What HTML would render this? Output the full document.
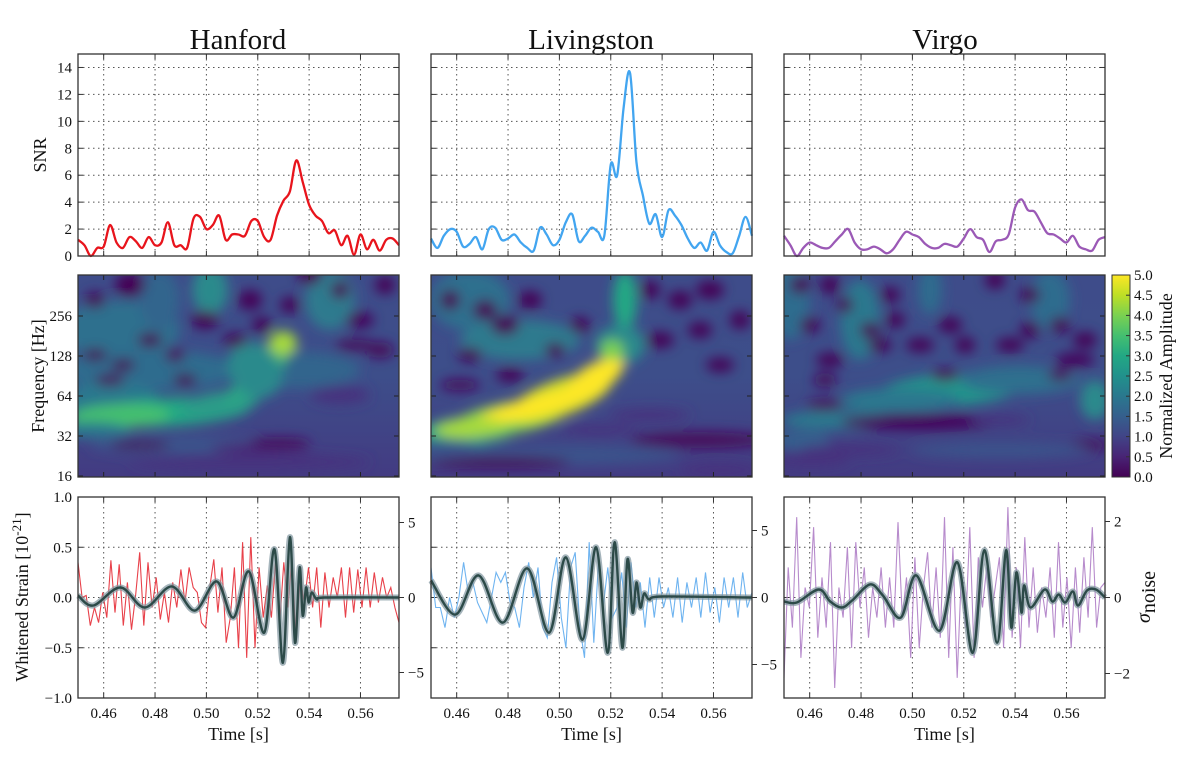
<!DOCTYPE html>
<html><head><meta charset="utf-8"><style>
html,body{margin:0;padding:0;background:#fff;}
svg{display:block;font-family:"Liberation Serif",serif;}
</style></head><body>
<svg id="fig" width="1200" height="771" viewBox="0 0 1200 771" xmlns="http://www.w3.org/2000/svg">
<defs>
<filter id="blur6" x="-20%" y="-20%" width="140%" height="140%"><feGaussianBlur stdDeviation="6"/></filter>
<linearGradient id="viridis" x1="0" y1="1" x2="0" y2="0">
<stop offset="0" stop-color="#440154"/><stop offset="0.1" stop-color="#482475"/><stop offset="0.2" stop-color="#414487"/>
<stop offset="0.3" stop-color="#355f8d"/><stop offset="0.4" stop-color="#2a788e"/><stop offset="0.5" stop-color="#21918c"/>
<stop offset="0.6" stop-color="#22a884"/><stop offset="0.7" stop-color="#44bf70"/><stop offset="0.8" stop-color="#7ad151"/>
<stop offset="0.9" stop-color="#bddf26"/><stop offset="1" stop-color="#fde725"/>
</linearGradient>
<linearGradient id="specbg" x1="0" y1="0" x2="0" y2="1">
<stop offset="0" stop-color="#3e4c8a"/><stop offset="0.5" stop-color="#3d4e8a"/><stop offset="1" stop-color="#433b82"/>
</linearGradient>
<clipPath id="c0"><rect x="78" y="275" width="321" height="202"/></clipPath>
<clipPath id="c1"><rect x="431" y="275" width="321" height="202"/></clipPath>
<clipPath id="c2"><rect x="784" y="275" width="321" height="202"/></clipPath>
</defs>
</svg>
<script>
// ---------- data ----------
const detectors = ["Hanford", "Livingston", "Virgo"];
const tStart = 0.45, tEnd = 0.575;
const timeTicks = [0.46, 0.48, 0.50, 0.52, 0.54, 0.56];
const snrTicks = [0, 2, 4, 6, 8, 10, 12, 14];
const freqTicks = [16, 32, 64, 128, 256];
const strainTicks = [1.0, 0.5, 0.0, -0.5, -1.0];
const colorbarTicks = [0.0, 0.5, 1.0, 1.5, 2.0, 2.5, 3.0, 3.5, 4.0, 4.5, 5.0];
const sigmaTicksHL = [5, 0, -5];
const sigmaTicksV = [2, 0, -2];

const snrHanford = [1.2,0.8,0.0,0.6,0.7,2.3,1.0,0.6,1.4,1.1,0.6,1.4,0.8,1.0,2.5,0.8,0.8,0.6,2.8,2.9,2.0,2.3,3.0,1.2,1.6,1.6,1.5,2.6,2.6,1.4,1.2,3.0,4.1,4.8,7.1,5.5,3.8,3.0,2.6,1.7,1.9,0.8,1.5,0.1,1.6,0.5,1.2,0.4,1.2,1.3,0.8];
const snrLivingston = [1.3,0.6,1.5,2.0,1.8,0.7,0.9,1.4,0.5,2.0,2.1,1.2,1.3,1.6,1.0,0.6,0.4,2.1,1.6,0.8,1.2,2.5,3.1,1.1,1.5,2.1,1.8,1.5,6.8,6.0,11.0,13.6,7.0,4.5,2.4,3.1,1.4,3.4,3.0,2.3,1.3,0.6,1.0,0.4,1.8,0.8,0.3,0.2,1.5,2.9,1.5];
const snrVirgo = [1.5,0.8,0.0,0.6,1.0,0.8,0.6,0.6,1.1,1.6,2.0,1.0,0.5,0.5,0.7,0.5,0.2,0.5,1.2,1.8,1.6,1.4,0.9,0.6,0.6,0.9,0.8,0.7,1.3,2.0,1.4,1.2,0.3,1.1,1.2,1.6,3.6,4.2,3.4,3.3,2.5,1.7,1.6,1.3,1.0,1.5,0.7,0.5,0.4,1.2,1.4];

const tmplTimesH = [0.450,0.456,0.4665,0.476,0.4865,0.4955,0.504,0.5105,0.5165,0.5225,0.5265,0.5298,0.5325,0.5345,0.5363,0.5375,0.5388,0.5398,0.541,0.543,0.546,0.575];
const tmplValsH  = [0.02,-0.08,0.10,-0.10,0.11,-0.13,0.16,-0.20,0.26,-0.35,0.48,-0.65,0.60,-0.45,0.30,-0.18,0.10,-0.05,0.05,-0.02,0.0,0.0];
const tmplTimesL = [0.450,0.4595,0.4685,0.478,0.4875,0.496,0.5025,0.509,0.5143,0.5188,0.5215,0.5245,0.5265,0.5285,0.530,0.5315,0.533,0.535,0.540,0.575];
const tmplValsL  = [0.17,-0.17,0.22,-0.25,0.29,-0.35,0.40,-0.42,0.50,-0.55,0.55,-0.50,0.38,-0.15,0.15,-0.10,0.04,-0.02,0.01,0.0];
const tmplTimesV = [0.450,0.455,0.4635,0.468,0.4725,0.4765,0.4835,0.4885,0.4955,0.5015,0.5105,0.5175,0.5235,0.528,0.533,0.5365,0.5385,0.5405,0.5425,0.5435,0.546,0.5515,0.5545,0.557,0.5595,0.5625,0.5645,0.568,0.5715,0.575];
const tmplValsV  = [-0.04,-0.05,0.08,-0.04,-0.10,-0.03,0.13,0.02,-0.20,0.22,-0.33,0.35,-0.55,0.47,-0.45,0.47,-0.30,0.25,-0.15,0.12,-0.10,0.08,-0.04,0.03,-0.05,0.06,-0.08,0.07,0.08,0.0];

const dataH = [0.35,0.0,0.02,-0.28,-0.1,-0.25,0.05,-0.2,0.37,-0.15,0.33,-0.28,0.15,-0.32,0.02,0.45,-0.28,0.35,-0.1,0.2,-0.22,0.05,-0.25,0.15,-0.1,0.28,-0.05,0.3,0.1,0.05,-0.25,-0.3,0.1,0.38,-0.15,0.3,-0.45,-0.2,0.3,-0.5,0.55,-0.6,0.6,-0.5,0.3,-0.2,0.12,-0.2,0.35,-0.25,0.35,-0.1,0.4,-0.45,0.2,-0.05,0.3,-0.1,0.3,-0.3,0.25,-0.1,0.2,0.0,0.3,-0.2,0.3,-0.15,0.28,-0.1,0.3,-0.1,0.25,-0.05,0.2,0.0,0.1,-0.1,-0.25];
const dataL = [0.3,-0.1,-0.1,-0.3,0.0,-0.2,0.0,0.35,0.05,0.15,-0.05,-0.15,-0.25,0.0,0.25,0.15,0.25,-0.05,-0.1,-0.3,0.1,0.35,0.0,0.3,-0.3,-0.4,0.15,0.4,-0.2,-0.5,0.3,0.45,-0.3,-0.6,0.55,-0.45,0.35,-0.1,0.3,-0.2,-0.1,0.25,-0.3,0.35,-0.1,0.15,-0.3,0.2,-0.2,0.2,-0.1,0.1,-0.2,0.2,-0.25,0.15,-0.1,0.2,-0.2,0.25,-0.15,0.1,-0.25,0.2,-0.1,0.2,-0.2,0.25,-0.1,0.05];
const dataV = [-0.8,0.3,-0.3,0.8,-0.6,0.1,-0.1,0.7,-0.4,0.2,-0.3,0.55,-0.9,0.1,-0.2,0.5,-0.5,0.55,-0.1,0.3,-0.4,0.1,-0.2,0.3,-0.3,0.2,-0.3,0.75,-0.2,0.2,-0.6,0.4,-0.5,0.1,0.45,-0.3,0.3,-0.4,0.8,-0.6,0.5,-0.8,0.25,-0.3,0.7,-0.6,0.4,-0.1,0.3,-0.2,0.1,0.4,-0.5,0.9,-0.4,0.3,-0.5,0.6,-0.3,0.3,-0.35,0.1,-0.2,0.3,-0.4,0.55,-0.3,0.2,-0.5,0.3,-0.35,0.4,-0.2,0.7,-0.3,0.1,0.15];

// ---------- layout ----------
const NS = "http://www.w3.org/2000/svg";
const svg = document.getElementById("fig");
const colX = [78, 431, 784], W = 321;
const rowSNR = [54, 256], rowStr = [497, 698];
const snrColors = ["#e8141c", "#42a5f0", "#9b59b6"];
const dataColors = ["#e8414a", "#6fb4f0", "#b78bcc"];
const snrSeries = [snrHanford, snrLivingston, snrVirgo];
const tmplT = [tmplTimesH, tmplTimesL, tmplTimesV];
const tmplV = [tmplValsH, tmplValsL, tmplValsV];
const dataS = [dataH, dataL, dataV];

function mk(tag, attrs, parent) {
  const e = document.createElementNS(NS, tag);
  for (const k in attrs) e.setAttribute(k, attrs[k]);
  (parent || svg).appendChild(e);
  return e;
}
function txt(s, attrs, parent) { const e = mk("text", attrs, parent); e.textContent = s; return e; }
function xS(c, t) { return colX[c] + (t - tStart) / (tEnd - tStart) * W; }
function ySNR(v) { return rowSNR[1] - v / 15 * (rowSNR[1] - rowSNR[0]); }
function yStr(v) { return 597.5 - v * 100.5; }
function yFreq(f) { return 476 - Math.log2(f / 16) * 40; }
function smoothPath(pts) {
  let d = "M" + pts[0][0].toFixed(1) + "," + pts[0][1].toFixed(1);
  for (let i = 0; i < pts.length - 1; i++) {
    const p0 = pts[Math.max(0, i - 1)], p1 = pts[i], p2 = pts[i + 1], p3 = pts[Math.min(pts.length - 1, i + 2)];
    const c1 = [p1[0] + (p2[0] - p0[0]) / 6, p1[1] + (p2[1] - p0[1]) / 6];
    const c2 = [p2[0] - (p3[0] - p1[0]) / 6, p2[1] - (p3[1] - p1[1]) / 6];
    d += "C" + c1[0].toFixed(1) + "," + c1[1].toFixed(1) + " " + c2[0].toFixed(1) + "," + c2[1].toFixed(1) + " " + p2[0].toFixed(1) + "," + p2[1].toFixed(1);
  }
  return d;
}
function seriesPts(c, arr, yf) {
  return arr.map((v, i) => [xS(c, tStart + i * (tEnd - tStart) / (arr.length - 1)), yf(v)]);
}
function frame(c, y0, y1, name) {
  const r = mk("rect", { x: colX[c], y: y0, width: W, height: y1 - y0, fill: "none", stroke: "#333", "stroke-width": 1.3 });
  
  
}
function xTicks(c, y0, y1, grid) {
  timeTicks.forEach(t => {
    const x = xS(c, t);
    if (grid) mk("line", { x1: x, y1: y0, x2: x, y2: y1, stroke: "#555", "stroke-width": 1, "stroke-dasharray": "1.5,3.5" });
    mk("line", { x1: x, y1: y0, x2: x, y2: y0 + 5, stroke: "#333", "stroke-width": 1 });
    mk("line", { x1: x, y1: y1, x2: x, y2: y1 - 5, stroke: "#333", "stroke-width": 1 });
  });
}

// ---------- titles ----------
const titleX = [238, 591, 945];
detectors.forEach((d, c) => {
  const t = txt(d, { x: titleX[c], y: 49, "font-size": 29, "text-anchor": "middle", fill: "#111" });
  
  
});

// ---------- row 1: SNR ----------
for (let c = 0; c < 3; c++) {
  const g = mk("g", {});
  
  
  xTicks(c, rowSNR[0], rowSNR[1], true);
  snrTicks.forEach(v => {
    const y = ySNR(v);
    if (v > 0) mk("line", { x1: colX[c], y1: y, x2: colX[c] + W, y2: y, stroke: "#555", "stroke-width": 1, "stroke-dasharray": "1.5,3.5" });
    mk("line", { x1: colX[c], y1: y, x2: colX[c] + 5, y2: y, stroke: "#333" });
    mk("line", { x1: colX[c] + W, y1: y, x2: colX[c] + W - 5, y2: y, stroke: "#333" });
    if (c === 0) txt(String(v), { x: 72, y: y + 5, "font-size": 15, "text-anchor": "end", fill: "#111" });
  });
  const p = mk("path", { d: smoothPath(seriesPts(c, snrSeries[c], ySNR)), fill: "none", stroke: snrColors[c], "stroke-width": 2.3, "stroke-linejoin": "round" });
  
  
  frame(c, rowSNR[0], rowSNR[1], detectors[c].toLowerCase() + '-snr-frame');
}
const snrLab = txt("SNR", { x: 0, y: 0, "font-size": 18, "text-anchor": "middle", transform: "translate(46,155) rotate(-90)", fill: "#111" });



// ---------- row 2: spectrograms (blurred blobs) ----------
const blobsH = [
  [120,330,60,30,"#2d6f8e",0],[210,290,18,25,"#2a8a8c",0],[330,300,25,30,"#2f7a8e",0],[160,300,20,30,"#33658d",0],
  [150,370,90,20,"#2f6c8e",0],[300,370,60,18,"#33658d",0],
  [110,400,50,18,"#2a788e",0],[170,412,80,14,"#22a884",-3],[120,416,50,12,"#44bf70",-2],[220,404,40,12,"#2a9b88",-8],
  [250,385,30,10,"#2ba685",-35],[270,360,18,14,"#44bf70",-45],[283,343,14,12,"#a6d93c",0],[255,370,25,30,"#2a8a8c",-40],
  [90,430,40,8,"#2a788e",0],[180,445,90,10,"#3b528b",0],[250,462,120,8,"#46327e",0],[260,448,50,5,"#482475",0],
  [140,445,30,4,"#440154",0],[280,443,30,5,"#46085c",0],[340,395,30,9,"#46327e",0],
  [95,300,10,8,"#440154",0],[130,285,15,12,"#440154",0],[150,340,12,7,"#440154",0],[185,380,12,6,"#440154",0],
  [205,320,14,9,"#440154",0],[175,355,10,7,"#460a5d",0],[250,300,12,10,"#450457",0],[262,325,10,8,"#440154",0],
  [235,340,12,7,"#440154",0],[290,305,10,8,"#440154",0],[310,275,12,10,"#440154",0],[340,290,9,9,"#440154",0],
  [360,320,14,8,"#45065a",0],[380,350,14,8,"#46085c",0],[385,285,10,9,"#440154",0],[355,345,20,6,"#46085c",0],
  [95,355,12,6,"#440154",0],[123,365,12,6,"#440154",0],[110,380,15,6,"#46085c",0]
];
const blobsL = [
  [470,300,40,30,"#2d6f8e",0],[520,340,60,20,"#2f7a8e",0],[625,300,12,30,"#22a884",0],[620,345,25,20,"#2a8a8c",0],
  [470,430,50,14,"#22a884",-4],[510,418,60,16,"#7ad151",-10],[560,398,55,18,"#d6e227",-20],[595,378,32,14,"#fde725",-30],
  [540,405,70,10,"#fde725",-15],[470,428,35,10,"#a6d93c",-4],[612,350,12,10,"#7ad151",0],
  [440,450,50,10,"#3b528b",0],[560,455,120,10,"#3b528b",0],[500,462,70,5,"#440154",0],[650,415,40,6,"#46327e",0],
  [700,440,70,8,"#46085c",0],[720,470,40,7,"#46327e",0],[600,430,40,5,"#46327e",0],
  [450,300,10,10,"#440154",0],[485,310,12,10,"#440154",0],[505,325,14,10,"#440154",0],[530,300,12,9,"#440154",0],
  [470,355,12,7,"#440154",0],[510,375,14,7,"#440154",0],[555,350,10,7,"#440154",0],[580,325,10,8,"#440154",0],
  [660,340,14,8,"#440154",0],[700,330,12,8,"#440154",0],[720,365,14,7,"#440154",0],[740,320,10,9,"#440154",0],
  [680,300,12,9,"#440154",0],[650,290,10,9,"#440154",0],[710,290,14,9,"#440154",0],[460,385,20,6,"#46085c",0]
];
const blobsV = [
  [860,320,20,40,"#2a788e",0],[790,300,20,40,"#2f6c8e",0],[930,290,12,25,"#2f6c8e",0],[1050,300,20,30,"#2f6c8e",0],
  [950,390,70,16,"#22948b",-3],[900,400,60,12,"#2a788e",0],[1020,380,60,14,"#2d6f8e",0],[1095,400,15,20,"#2a8a8c",0],
  [840,420,60,10,"#2a788e",0],[800,440,30,10,"#355f8d",0],
  [920,422,80,8,"#45065a",0],[1000,420,30,5,"#46327e",0],[850,450,50,6,"#46327e",0],[1090,445,20,5,"#46085c",0],
  [810,460,40,7,"#46327e",0],[1000,450,90,8,"#3b528b",0],
  [800,285,10,9,"#440154",0],[830,285,10,9,"#440154",0],[845,305,8,8,"#440154",0],[810,325,10,8,"#440154",0],
  [870,330,10,8,"#440154",0],[880,345,12,7,"#440154",0],[895,320,10,8,"#440154",0],[920,345,14,7,"#440154",0],
  [950,325,12,8,"#440154",0],[945,375,14,6,"#440154",0],[965,345,10,8,"#440154",0],[1010,345,14,7,"#440154",0],
  [1030,330,10,8,"#440154",0],[1060,325,10,8,"#440154",0],[1085,340,12,8,"#440154",0],[1030,295,10,8,"#440154",0],
  [995,280,10,9,"#440154",0],[830,360,14,7,"#440154",0],[825,380,12,7,"#46085c",0],[1060,375,12,6,"#46085c",0],
  [1075,360,20,7,"#45065a",0],[825,405,18,6,"#46085c",0],[890,295,10,8,"#440154",0]
];
const blobSets = [blobsH, blobsL, blobsV];
for (let c = 0; c < 3; c++) {
  const g = mk("g", { "clip-path": "url(#c" + c + ")" });
  
  
  mk("rect", { x: colX[c], y: 275, width: W, height: 202, fill: "url(#specbg)" }, g);
  const inner = mk("g", { filter: "url(#blur6)" }, g);
  blobSets[c].forEach(b => {
    mk("ellipse", { cx: b[0], cy: b[1], rx: b[2], ry: b[3], fill: b[4], transform: "rotate(" + b[5] + " " + b[0] + " " + b[1] + ")" }, inner);
  });
  timeTicks.forEach(t => {
    const x = xS(c, t);
    mk("line", { x1: x, y1: 275, x2: x, y2: 280, stroke: "#222" });
    mk("line", { x1: x, y1: 477, x2: x, y2: 472, stroke: "#222" });
  });
  freqTicks.forEach(f => {
    const y = yFreq(f);
    mk("line", { x1: colX[c], y1: y, x2: colX[c] + 5, y2: y, stroke: "#222" });
    mk("line", { x1: colX[c] + W, y1: y, x2: colX[c] + W - 5, y2: y, stroke: "#222" });
    if (c === 0) txt(String(f), { x: 72, y: y + 5, "font-size": 15, "text-anchor": "end", fill: "#111" });
  });
  frame(c, 275, 477, detectors[c].toLowerCase() + '-spectrogram-frame');
}
const fLab = txt("Frequency [Hz]", { x: 0, y: 0, "font-size": 18, "text-anchor": "middle", transform: "translate(44,376) rotate(-90)", fill: "#111" });



// colorbar
const cb = mk("rect", { x: 1112, y: 275, width: 18, height: 202, fill: "url(#viridis)", stroke: "#333", "stroke-width": 1 });


colorbarTicks.forEach(v => {
  const y = 477 - v / 5 * 202;
  mk("line", { x1: 1130, y1: y, x2: 1126, y2: y, stroke: "#333" });
  txt(v.toFixed(1), { x: 1134, y: y + 5, "font-size": 15, fill: "#111" });
});
const cbl = txt("Normalized Amplitude", { x: 0, y: 0, "font-size": 18, "text-anchor": "middle", transform: "translate(1172,376) rotate(-90)", fill: "#111" });



// ---------- row 3: whitened strain ----------
const rightScale = [15, 13.4, 38];
const rightTicks = [sigmaTicksHL, sigmaTicksHL, sigmaTicksV];
for (let c = 0; c < 3; c++) {
  const g = mk("g", {});
  
  
  xTicks(c, rowStr[0], rowStr[1], true);
  strainTicks.forEach(v => {
    const y = yStr(v);
    if (Math.abs(v) < 0.9) mk("line", { x1: colX[c], y1: y, x2: colX[c] + W, y2: y, stroke: "#555", "stroke-width": 1, "stroke-dasharray": "1.5,3.5" });
    mk("line", { x1: colX[c], y1: y, x2: colX[c] + 5, y2: y, stroke: "#333" });
    if (c === 0) txt(v.toFixed(1).replace("-", "\u2212"), { x: 72, y: y + 5, "font-size": 15, "text-anchor": "end", fill: "#111" });
  });
  rightTicks[c].forEach(v => {
    const y = 597.5 - v * rightScale[c];
    mk("line", { x1: colX[c] + W, y1: y, x2: colX[c] + W + 5, y2: y, stroke: "#333" });
    txt(String(v).replace("-", "\u2212"), { x: colX[c] + W + 9, y: y + 5, "font-size": 15, fill: "#111" });
  });
  timeTicks.forEach(t => {
    txt(t.toFixed(2), { x: xS(c, t), y: 718, "font-size": 15, "text-anchor": "middle", fill: "#111" });
  });
  const tl = txt("Time [s]", { x: colX[c] + W / 2, y: 740, "font-size": 18, "text-anchor": "middle", fill: "#111" });
  
  

  const dp = mk("polyline", { points: seriesPts(c, dataS[c], yStr).map(p => p[0].toFixed(1) + "," + p[1].toFixed(1)).join(" "), fill: "none", stroke: dataColors[c], "stroke-width": 1.1 });
  
  
  const tp = tmplT[c].map((t, i) => [xS(c, t), yStr(tmplV[c][i])]);
  const band = mk("path", { d: smoothPath(tp), fill: "none", stroke: "#7f949e", "stroke-opacity": 0.7, "stroke-width": 6, "stroke-linejoin": "round" });
  
  
  const line = mk("path", { d: smoothPath(tp), fill: "none", stroke: "#2c4a48", "stroke-width": 2.4, "stroke-linejoin": "round" });
  
  
  frame(c, rowStr[0], rowStr[1], detectors[c].toLowerCase() + '-strain-frame');
}
const sLab = mk("text", { x: 0, y: 0, "font-size": 18, "text-anchor": "middle", transform: "translate(28,597) rotate(-90)", fill: "#111" });
sLab.innerHTML = 'Whitened Strain  [10<tspan dy="-7" font-size="13">-21</tspan><tspan dy="7">]</tspan>';


const nLab = mk("text", { x: 0, y: 0, "font-size": 20, "text-anchor": "middle", transform: "translate(1150,597) rotate(-90)", fill: "#111" });
nLab.innerHTML = '<tspan font-style="italic">σ</tspan><tspan dy="5">noise</tspan>';


</script>
</body></html>
